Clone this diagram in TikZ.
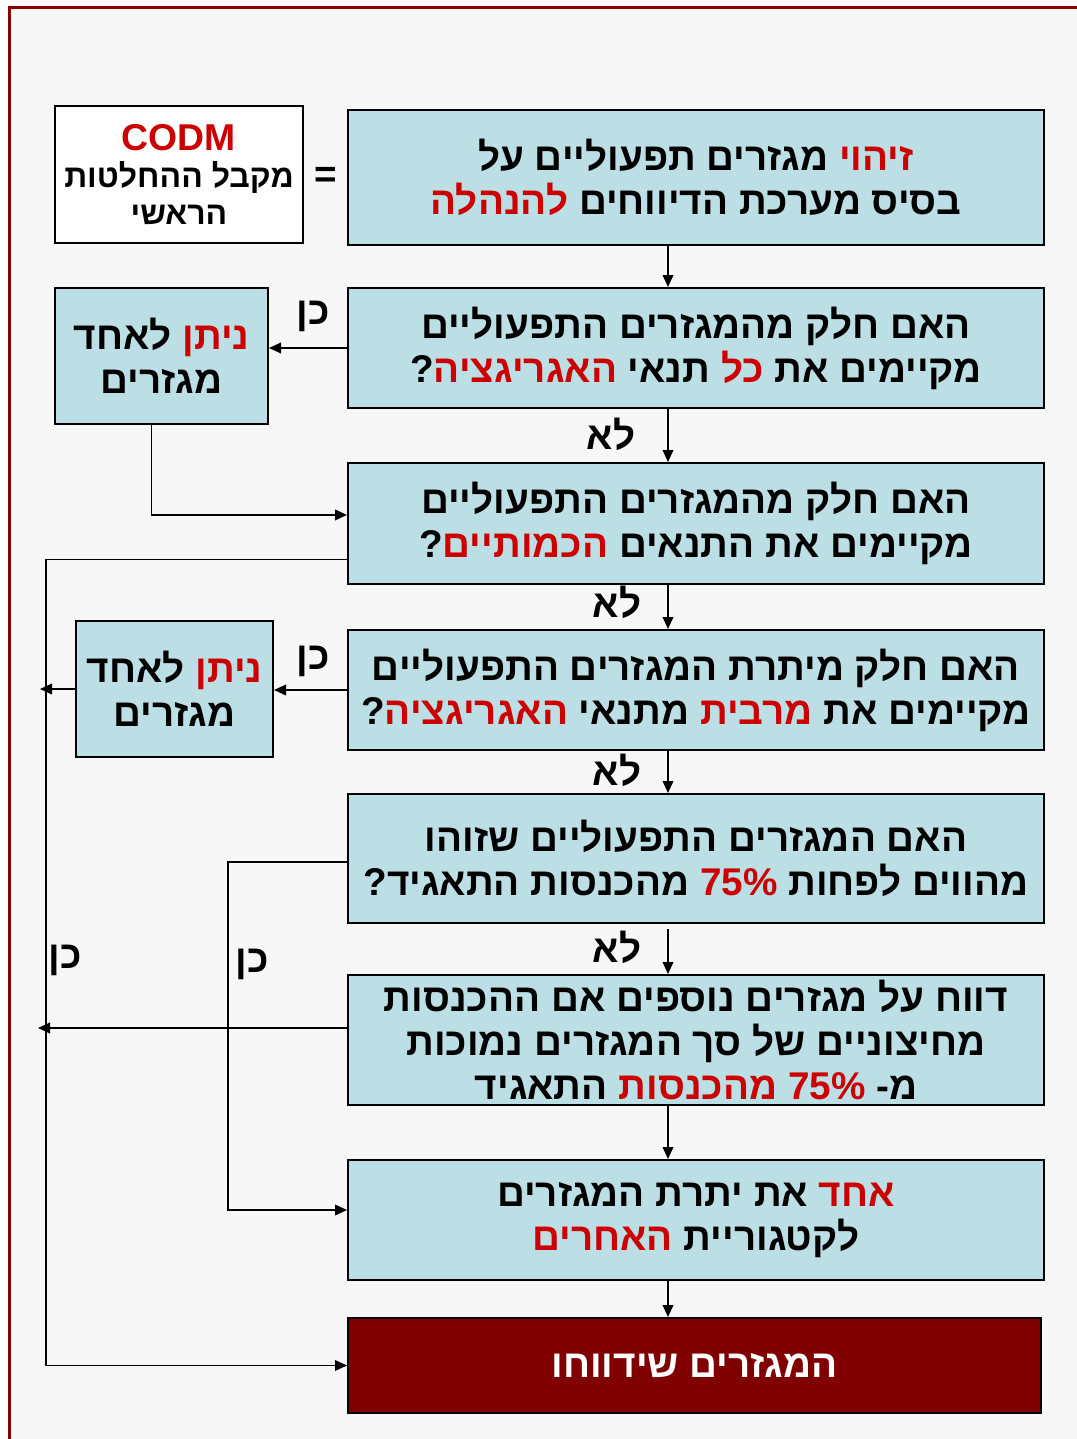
\documentclass[tikz,border=0pt]{standalone}
\usepackage{fontspec}
\setmainfont{Liberation Sans}
\newfontfamily\hebfont[Script=Hebrew]{Liberation Sans}
\newfontfamily\hebred[Script=Hebrew,Color=CC0000]{Liberation Sans}
\TeXXeTstate=1
\usetikzlibrary{positioning,arrows.meta}
\definecolor{boxblue}{HTML}{BCDFE5}
\definecolor{hired}{HTML}{CC0000}
\definecolor{darkbox}{HTML}{800000}
\definecolor{framered}{HTML}{8B0000}
\definecolor{pagegrey}{HTML}{F7F7F7}
\newcommand{\heb}[1]{{\hebfont\bfseries\beginR #1\endR}}
% red words take their colour from the font, so no colour specials sit in the reversed text
\newcommand{\hl}[1]{{\hebred #1}}

\begin{document}
\begin{tikzpicture}[x=0.75pt,y=-0.75pt,
    txt/.style={font=\fontsize{29}{33}\selectfont},
    qbox/.style={txt, draw, line width=1.5pt, fill=boxblue, minimum width=522pt, inner sep=0pt, align=center},
    sidebox/.style={txt, draw, line width=1.5pt, fill=boxblue, minimum height=102pt, inner sep=0pt, align=center},
    arr/.style={line width=1.1pt, -{Triangle[length=9pt,width=8pt]}}]
		\useasboundingbox (0,0) rectangle (1077,1439);
		\fill[white] (0,0) rectangle (1077,1439);
		\fill[pagegrey] (11,9) rectangle (1077,1439);
		\draw[framered, line width=2.25pt] (9.5,1445) -- (9.5,7.5) -- (1085,7.5);
		% main column
		\node[qbox, minimum height=101.25pt] (ident) at (696,177.5)
                {\heb{\hl{זיהוי} מגזרים תפעוליים על}\\\heb{בסיס מערכת הדיווחים \hl{להנהלה}}};
		\node[draw, line width=1.5pt, fill=white, minimum width=186pt, minimum height=102.75pt, inner sep=0pt, align=center,
                font=\fontsize{24}{27.5}\selectfont\bfseries] (codm) at (179,174.5)
                {\textcolor{hired}{\fontsize{28}{27.5}\selectfont CODM}\\\heb{מקבל ההחלטות}\\\heb{הראשי}};
		\node[font=\fontsize{29}{33}\selectfont\bfseries] (eq) at (326,177) {=};
		\node[qbox, minimum height=90pt] (allagg) at (696,348)
                {\heb{האם חלק מהמגזרים התפעוליים}\\\heb{מקיימים את \hl{כל} תנאי \hl{האגריגציה}?}};
		\node[qbox, minimum height=90.75pt] (quant) at (696,523.5)
                {\heb{האם חלק מהמגזרים התפעוליים}\\\heb{מקיימים את התנאים \hl{הכמותיים}?}};
		\node[qbox, minimum height=90pt] (mostagg) at (696,690)
                {\heb{האם חלק מיתרת המגזרים התפעוליים}\\\heb{מקיימים את \hl{מרבית} מתנאי \hl{האגריגציה}?}};
		\node[qbox, minimum height=96.75pt] (share) at (696,858.5)
                {\heb{האם המגזרים התפעוליים שזוהו}\\\heb{מהווים לפחות \hl{\beginL 75\%\endL} מהכנסות התאגיד?}};
		\node[qbox, minimum height=97.5pt] (more) at (696,1040)
                {\heb{דווח על מגזרים נוספים אם ההכנסות}\\\heb{מחיצוניים של סך המגזרים נמוכות}\\\heb{מ- \hl{\beginL 75\%\endL{} מהכנסות} התאגיד}};
		\node[qbox, minimum height=90pt] (others) at (696,1220)
                {\heb{\hl{אחד} את יתרת המגזרים}\\\heb{לקטגוריית \hl{האחרים}}};
		\node[qbox, fill=darkbox, text=white, minimum width=519.75pt, minimum height=71.25pt] (report) at (694.5,1365.5)
                {\heb{המגזרים שידווחו}};
		% side boxes
		\node[sidebox, minimum width=159.75pt] (mergeA) at (161.5,356)
                {\heb{\hl{ניתן} לאחד}\\\heb{מגזרים}};
		\node[sidebox, minimum width=147.75pt] (mergeB) at (174.5,689)
                {\heb{\hl{ניתן} לאחד}\\\heb{מגזרים}};
		% answer labels
		\node[txt] (yesA) at (313,316) {\heb{כן}};
		\node[txt] (noA) at (611,434) {\heb{לא}};
		\node[txt] (noB) at (617,602) {\heb{לא}};
		\node[txt] (yesB) at (313,661) {\heb{כן}};
		\node[txt] (noC) at (617,770) {\heb{לא}};
		\node[txt] (noD) at (617,947) {\heb{לא}};
		\node[txt] (yesC) at (65,960) {\heb{כן}};
		\node[txt] (yesD) at (252,964) {\heb{כן}};
		% rails
		\coordinate (spine) at (668,0);
		\coordinate (rail) at (46,1365.5);
		\coordinate (bend) at (228,1210);
		% connectors
		\draw[arr] (ident.south -| spine) -- (allagg.north -| spine);
		\draw[arr] (allagg.south -| spine) -- (quant.north -| spine);
		\draw[arr] (quant.south -| spine) -- (mostagg.north -| spine);
		\draw[arr] (mostagg.south -| spine) -- (share.north -| spine);
		\draw[arr] ([yshift=-3.75pt]share.south -| spine) -- (more.north -| spine);
		\draw[arr] (more.south -| spine) -- (others.north -| spine);
		\draw[arr] (others.south -| spine) -- (report.north -| spine);
		\draw[arr] (allagg.west) -- (mergeA.east |- allagg.west);
		\draw[arr] ([xshift=-7.5pt]mergeA.south) |- ([yshift=6.4pt]quant.west);
		\draw[arr] ([yshift=-27pt]quant.west) -| (rail) -- (report.west);
		\draw[arr] (mostagg.west) -- (mergeB.east |- mostagg.west);
		\draw[arr, shorten >=-4.5pt] (mergeB.west) -- (mergeB.west -| rail);
		\draw[arr] ([yshift=-2.6pt]share.west) -| (bend) -- ([yshift=7.5pt]others.west);
		\draw[arr, shorten >=-6pt] ([yshift=9pt]more.west) -- ([yshift=9pt]more.west -| rail);
	\end{tikzpicture}
\end{document}
